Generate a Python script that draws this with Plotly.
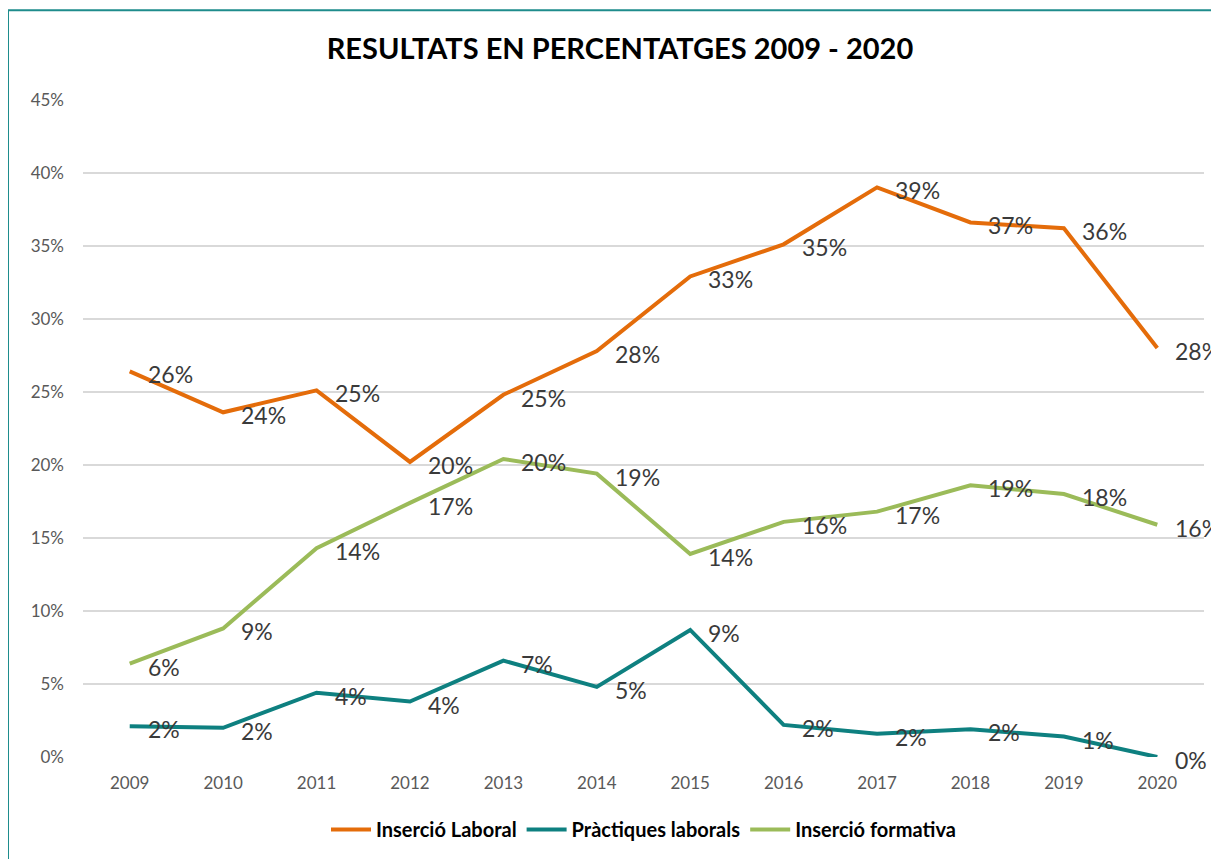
import plotly.graph_objects as go

years = ["2009", "2010", "2011", "2012", "2013", "2014", "2015", "2016", "2017", "2018", "2019", "2020"]
insercio_laboral = [26.4, 23.6, 25.1, 20.2, 24.8, 27.8, 32.9, 35.1, 39.0, 36.6, 36.2, 28.0]
practiques_laborals = [2.1, 2.0, 4.4, 3.8, 6.6, 4.8, 8.7, 2.2, 1.6, 1.9, 1.4, 0.0]
insercio_formativa = [6.4, 8.8, 14.3, 17.4, 20.4, 19.4, 13.9, 16.1, 16.8, 18.6, 18.0, 15.9]

series = [
    ("Inserció Laboral", insercio_laboral, "#E46C0A"),
    ("Pràctiques laborals", practiques_laborals, "#0E8080"),
    ("Inserció formativa", insercio_formativa, "#9BBB59"),
]

FONT = "Lato, Open Sans, sans-serif"

fig = go.Figure()
annotations = []
for name, vals, color in series:
    yv = [v / 100 for v in vals]
    fig.add_trace(go.Scatter(
        x=years, y=yv, name=name, mode="lines",
        line=dict(color=color, width=4),
    ))
    for i, (y, v) in enumerate(zip(yv, vals)):
        annotations.append(dict(
            x=i, y=y, xref="x", yref="y", text=f"{round(v):d}%",
            showarrow=False, xanchor="left", yanchor="middle",
            xshift=16, yshift=-3,
            font=dict(family=FONT, size=23, color="#3A3A3A"),
        ))

fig.update_layout(
    width=1219, height=859,
    paper_bgcolor="white", plot_bgcolor="white",
    margin=dict(l=75, r=23, t=91, b=110),
    title=dict(
        text="<b>RESULTATS EN PERCENTATGES 2009 - 2020</b>",
        x=0.502, xanchor="center", y=0.953, yanchor="middle",
        font=dict(family=FONT, size=29, color="#000000"),
    ),
    showlegend=True,
    legend=dict(
        orientation="h", x=0.5, xanchor="center", y=-0.11, yanchor="middle",
        font=dict(family=FONT, size=20, color="#000000", weight="bold"),
        itemwidth=40, tracegroupgap=0,
    ),
    annotations=annotations,
    shapes=[dict(
        type="rect", xref="paper", yref="paper",
        x0=-0.0669, x1=1.08, y0=-0.25, y1=1.135,
        line=dict(color="#1E8C8C", width=2), fillcolor="rgba(0,0,0,0)",
        layer="below",
    )],
)

fig.update_xaxes(
    type="category", showgrid=False, showline=False, zeroline=False,
    ticks="", ticklabelstandoff=14,
    tickfont=dict(family=FONT, size=17, color="#595959"),
    range=[-0.5, 11.5],
)
fig.update_yaxes(
    range=[0, 0.4505], dtick=0.05, tickformat=".0%",
    showgrid=True, gridcolor="#D9D9D9", gridwidth=1.5,
    zeroline=False, showline=False, ticks="", ticklabelstandoff=18,
    tickfont=dict(family=FONT, size=17, color="#595959"),
)

fig.write_html("out.html")
